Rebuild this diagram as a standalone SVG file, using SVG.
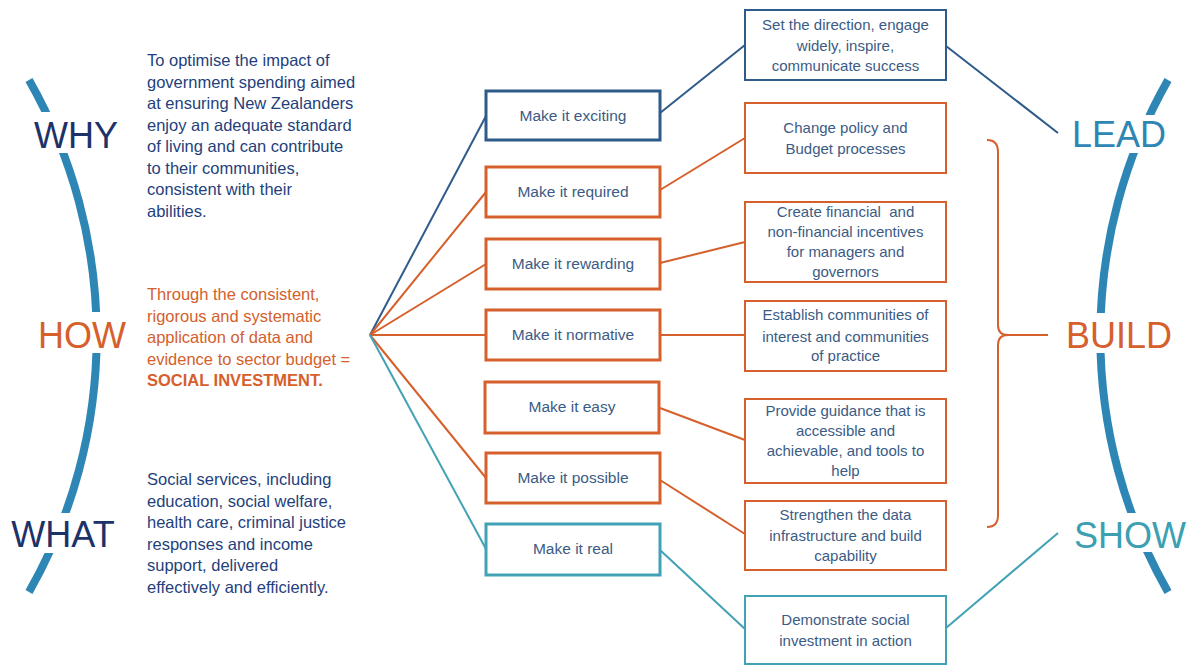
<svg xmlns="http://www.w3.org/2000/svg" width="1192" height="666" viewBox="0 0 1192 666">
<defs>
<style>
.bg{fill:#ffffff}
.arc{fill:none;stroke:#2e86b5;stroke-width:8}
.gap{fill:#ffffff}
.big{font-family:"Liberation Sans",Arial,sans-serif;font-size:36px;text-anchor:middle}
.para{font-family:"Liberation Sans",Arial,sans-serif;font-size:16.5px}
.navyT{fill:#1c3268}
.paraBlue{fill:#243f7c}
.orangeT{fill:#d5602c}
.leadT{fill:#2e86b5}
.showT{fill:#3c9fb2}
.mbox{fill:#ffffff;stroke-width:3}
.rbox{fill:#ffffff;stroke-width:2}
.navy{stroke:#2f5b8a}
.orange{stroke:#d5602c}
.teal{stroke:#42a2b5}
.lbl{font-family:"Liberation Sans",Arial,sans-serif;font-size:15px;fill:#3b5b85;text-anchor:middle;white-space:pre}
.mlbl{font-size:15.5px}
.conn{fill:none;stroke-width:2}
</style>
</defs>
<rect class="bg" x="0" y="0" width="1192" height="666"/>

<g id="left-arc">
<path class="arc" d="M29,80 A518,518 0 0 1 29,592"/>
<rect class="gap" x="30" y="112" width="92" height="41"/>
<rect class="gap" x="33" y="312" width="98" height="41"/>
<rect class="gap" x="6" y="513" width="116" height="40"/>
</g>
<g id="right-arc">
<path class="arc" d="M1168,80 A518,518 0 0 0 1168,592"/>
<rect class="gap" x="1068" y="115" width="100" height="38"/>
<rect class="gap" x="1062" y="313" width="114" height="40"/>
<rect class="gap" x="1068" y="513" width="124" height="39"/>
</g>

<g id="connectors">
<line class="conn navy" x1="370" y1="335" x2="486" y2="116"/>
<line class="conn orange" x1="370" y1="335" x2="486" y2="192"/>
<line class="conn orange" x1="370" y1="335" x2="486" y2="264"/>
<line class="conn orange" x1="370" y1="335" x2="486" y2="335"/>
<line class="conn orange" x1="370" y1="335" x2="486" y2="478"/>
<line class="conn teal" x1="370" y1="335" x2="486" y2="549"/>
<line class="conn navy" x1="660" y1="113" x2="745" y2="45"/>
<line class="conn navy" x1="946" y1="46" x2="1058" y2="133"/>
<line class="conn orange" x1="660" y1="190" x2="745" y2="138"/>
<line class="conn orange" x1="660" y1="263" x2="745" y2="242"/>
<line class="conn orange" x1="660" y1="335" x2="745" y2="335"/>
<line class="conn orange" x1="660" y1="408" x2="745" y2="440"/>
<line class="conn orange" x1="660" y1="480" x2="745" y2="534"/>
<line class="conn teal" x1="660" y1="550" x2="745" y2="629"/>
<line class="conn teal" x1="946" y1="628" x2="1058" y2="533"/>
<path class="conn orange" d="M987,140 Q998,140 998,152 L998,325 Q998,335 1008,335 Q998,335 998,345 L998,515 Q998,527 987,527 M1008,335 L1048,335"/>
</g>

<g id="why">
<text class="big navyT" x="76" y="148">WHY</text>
<text class="para paraBlue" x="147"><tspan x="147" y="66">To optimise the impact of</tspan><tspan x="147" y="87.5">government spending aimed</tspan><tspan x="147" y="109">at ensuring New Zealanders</tspan><tspan x="147" y="130.5">enjoy an adequate standard</tspan><tspan x="147" y="152">of living and can contribute</tspan><tspan x="147" y="173.5">to their communities,</tspan><tspan x="147" y="195">consistent with their</tspan><tspan x="147" y="216.5">abilities.</tspan></text>
</g>
<g id="how">
<text class="big orangeT" x="82" y="348">HOW</text>
<text class="para orangeT" x="147"><tspan x="147" y="300">Through the consistent,</tspan><tspan x="147" y="321.5">rigorous and systematic</tspan><tspan x="147" y="343">application of data and</tspan><tspan x="147" y="364.5">evidence to sector budget =</tspan><tspan x="147" y="386" font-weight="bold">SOCIAL INVESTMENT.</tspan></text>
</g>
<g id="what">
<text class="big navyT" x="63" y="547">WHAT</text>
<text class="para paraBlue" x="147"><tspan x="147" y="485">Social services, including</tspan><tspan x="147" y="506.5">education, social welfare,</tspan><tspan x="147" y="528">health care, criminal justice</tspan><tspan x="147" y="549.5">responses and income</tspan><tspan x="147" y="571">support, delivered</tspan><tspan x="147" y="592.5">effectively and efficiently.</tspan></text>
</g>

<g id="make-exciting"><rect class="mbox navy" x="486" y="91" width="174" height="49"/><text class="lbl mlbl" x="573" y="121">Make it exciting</text></g>
<g id="make-required"><rect class="mbox orange" x="486" y="167" width="174" height="50"/><text class="lbl mlbl" x="573" y="197">Make it required</text></g>
<g id="make-rewarding"><rect class="mbox orange" x="486" y="239" width="174" height="50"/><text class="lbl mlbl" x="573" y="269">Make it rewarding</text></g>
<g id="make-normative"><rect class="mbox orange" x="486" y="310" width="174" height="50"/><text class="lbl mlbl" x="573" y="340">Make it normative</text></g>
<g id="make-easy"><rect class="mbox orange" x="485" y="382" width="174" height="51"/><text class="lbl mlbl" x="572" y="412">Make it easy</text></g>
<g id="make-possible"><rect class="mbox orange" x="486" y="453" width="174" height="50"/><text class="lbl mlbl" x="573" y="483">Make it possible</text></g>
<g id="make-real"><rect class="mbox teal" x="486" y="524" width="174" height="51"/><text class="lbl mlbl" x="573" y="554">Make it real</text></g>

<g id="box-direction"><rect class="rbox navy" x="745" y="10" width="201" height="70"/><text class="lbl"><tspan x="845.5" y="30">Set the direction, engage</tspan><tspan x="845.5" y="51">widely, inspire,</tspan><tspan x="845.5" y="71">communicate success</tspan></text></g>
<g id="box-policy"><rect class="rbox orange" x="745" y="103" width="201" height="70"/><text class="lbl"><tspan x="845.5" y="133">Change policy and</tspan><tspan x="845.5" y="154">Budget processes</tspan></text></g>
<g id="box-incentives"><rect class="rbox orange" x="745" y="202" width="201" height="80"/><text class="lbl"><tspan x="845.5" y="217">Create financial  and</tspan><tspan x="845.5" y="237">non-financial incentives</tspan><tspan x="845.5" y="257">for managers and</tspan><tspan x="845.5" y="277">governors</tspan></text></g>
<g id="box-communities"><rect class="rbox orange" x="745" y="301" width="201" height="70"/><text class="lbl"><tspan x="845.5" y="320">Establish communities of</tspan><tspan x="845.5" y="342">interest and communities</tspan><tspan x="845.5" y="361">of practice</tspan></text></g>
<g id="box-guidance"><rect class="rbox orange" x="745" y="399" width="201" height="84"/><text class="lbl"><tspan x="845.5" y="416">Provide guidance that is</tspan><tspan x="845.5" y="436">accessible and</tspan><tspan x="845.5" y="456">achievable, and tools to</tspan><tspan x="845.5" y="476">help</tspan></text></g>
<g id="box-data"><rect class="rbox orange" x="745" y="501" width="201" height="69"/><text class="lbl"><tspan x="845.5" y="520">Strengthen the data</tspan><tspan x="845.5" y="541">infrastructure and build</tspan><tspan x="845.5" y="561">capability</tspan></text></g>
<g id="box-demonstrate"><rect class="rbox teal" x="745" y="596" width="201" height="68"/><text class="lbl"><tspan x="845.5" y="625">Demonstrate social</tspan><tspan x="845.5" y="646">investment in action</tspan></text></g>

<g id="lead"><text class="big leadT" x="1119" y="147">LEAD</text></g>
<g id="build"><text class="big orangeT" x="1119" y="348">BUILD</text></g>
<g id="show"><text class="big showT" x="1130" y="548">SHOW</text></g>
</svg>
